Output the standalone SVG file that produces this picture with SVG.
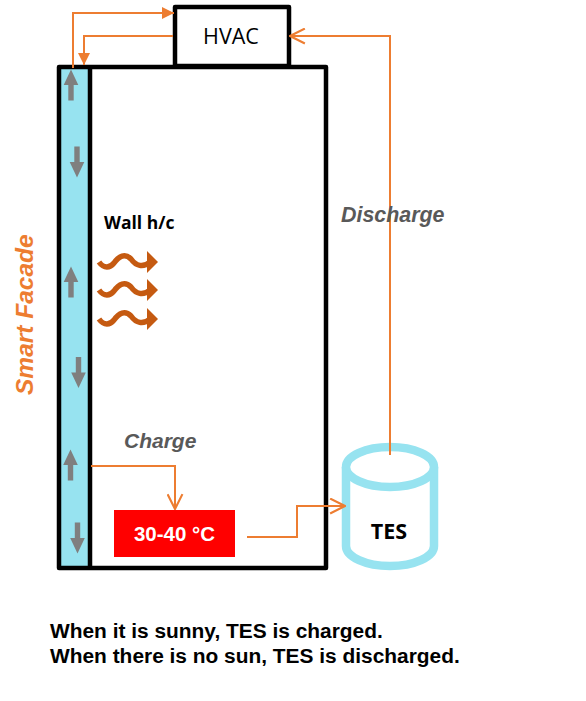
<svg xmlns="http://www.w3.org/2000/svg" width="586" height="701" viewBox="0 0 586 701">
<defs>
<style>
.box{fill:none;stroke:#000;stroke-width:4.5;stroke-linejoin:round}
.or{fill:none;stroke:#ed7d31;stroke-width:2}
.ga{fill:#7f7f7f}
.sans{font-family:"Liberation Sans",Arial,sans-serif}
.cal{font-family:"Open Sans","Noto Sans","Liberation Sans",sans-serif}
.lbl{font-family:"Liberation Sans",Arial,sans-serif;font-weight:bold;font-style:italic;font-size:21px;fill:#595959}
.wave{fill:none;stroke:#c55a11;stroke-width:5.500}
</style>
<marker id="open" viewBox="0 0 16 16" refX="15" refY="8" markerWidth="17" markerHeight="17" markerUnits="userSpaceOnUse" orient="auto"><path d="M1 1L15 8L1 15" fill="none" stroke="#ed7d31" stroke-width="2"/></marker>
<marker id="solid" viewBox="0 0 12 12" refX="12" refY="6" markerWidth="12" markerHeight="12" markerUnits="userSpaceOnUse" orient="auto"><path d="M0 0L12 6L0 12Z" fill="#ed7d31"/></marker>
<path id="up" d="M-2.700 15.500V0H-7.300L0-15.500L7.300 0H2.700V15.500Z"/>
<g id="wv"><path class="wave" d="M99 262C104 269 110 268 114 263C119 256 125 253 131 259C136 266 143 268 150 262"/><path d="M147 251L158 262L147 273Z" fill="#c55a11"/></g>
</defs>
<g id="facade">
<rect x="59" y="67" width="31" height="501" fill="#97e3f0"/>
<line x1="90" y1="67" x2="90" y2="568" stroke="#000" stroke-width="4.500"/>
<use href="#up" class="ga" x="71" y="85"/>
<use href="#up" class="ga" transform="translate(77,162) rotate(180)"/>
<use href="#up" class="ga" x="71" y="282"/>
<use href="#up" class="ga" transform="translate(78.500,372.500) rotate(180)"/>
<use href="#up" class="ga" x="70.500" y="465"/>
<use href="#up" class="ga" transform="translate(77.500,538) rotate(180)"/>
<text class="sans" transform="translate(33,395) rotate(-90)" font-size="24.500" font-weight="bold" font-style="italic" fill="#ed7d31">Smart Facade</text>
</g>
<g id="building"><rect class="box" x="59" y="67" width="267" height="501"/></g>
<g id="hvac"><rect x="175" y="7" width="114" height="59" fill="#fff" stroke="#000" stroke-width="4.500" stroke-linejoin="round"/>
<text class="cal" x="231" y="44" font-size="21.500" text-anchor="middle" fill="#000">HVAC</text></g>
<g id="wall-hc">
<text class="cal" x="104" y="229" font-size="17.500" font-weight="bold" fill="#000">Wall h/c</text>
<use href="#wv"/><use href="#wv" y="28"/><use href="#wv" y="57"/>
</g>
<g id="heat-source"><rect x="114" y="510" width="121" height="47" fill="#f00"/>
<text class="sans" x="174.500" y="541" font-size="20.500" font-weight="bold" text-anchor="middle" fill="#fff">30-40 °C</text></g>
<g id="tes">
<path d="M346 467V546C346 557 366 566 390 566S434 557 434 546V467" fill="#fff" stroke="#97e3f0" stroke-width="8.500"/>
<ellipse cx="390" cy="467" rx="44" ry="20" fill="#fff" stroke="#97e3f0" stroke-width="8.500"/>
<text class="cal" x="389" y="539" font-size="21.500" font-weight="bold" text-anchor="middle" fill="#000">TES</text></g>
<g id="connectors">
<path class="or" marker-end="url(#solid)" d="M73 68V13H174"/>
<path class="or" marker-end="url(#solid)" d="M173 36H84V65"/>
<path class="or" marker-end="url(#open)" d="M390 455V36H290"/>
<path class="or" marker-end="url(#open)" d="M91 466H175V509"/>
<path class="or" marker-end="url(#open)" d="M247 537H297V506H345"/>
</g>
<g id="labels">
<text class="lbl" x="341" y="222" font-size="21.400" style="font-size:21.400px">Discharge</text>
<text class="lbl" x="124" y="448">Charge</text>
<text class="sans" font-size="20.900" font-weight="bold" fill="#000"><tspan x="50" y="638">When it is sunny, TES is charged.</tspan><tspan x="50" y="663">When there is no sun, TES is discharged.</tspan></text>
</g>
</svg>
